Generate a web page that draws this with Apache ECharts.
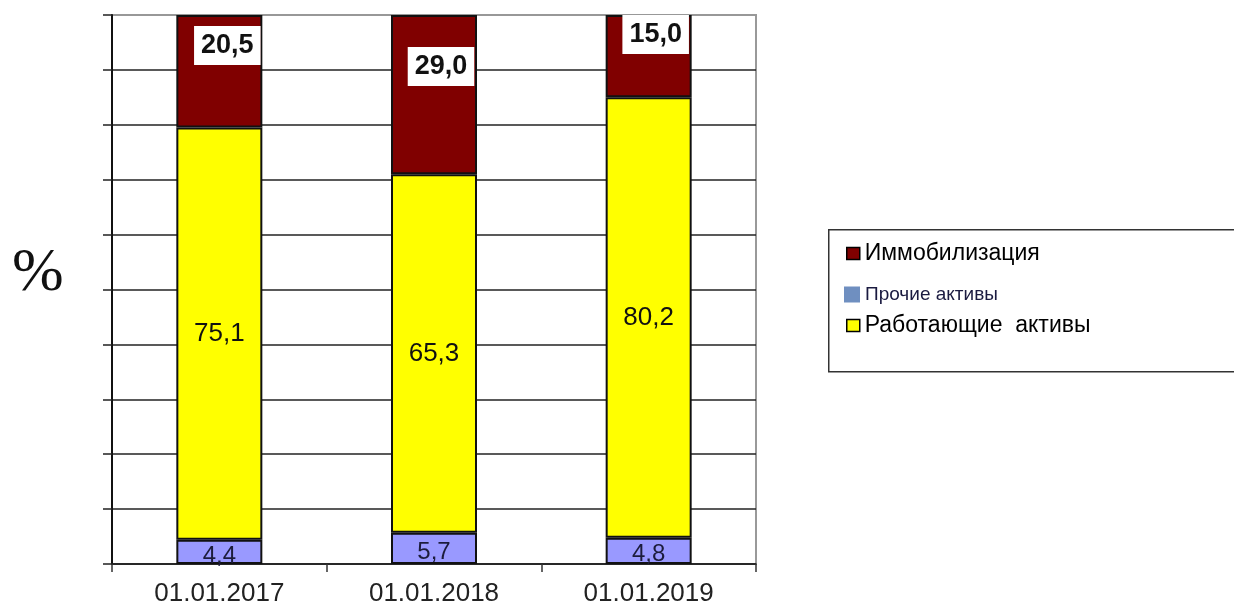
<!DOCTYPE html>
<html>
<head>
<meta charset="utf-8">
<script src="https://cdn.jsdelivr.net/npm/echarts@6/dist/echarts.min.js"></script>
<style>
  html, body { margin: 0; padding: 0; background: #fff; }
  #chart { width: 1234px; height: 607px; }
</style>
</head>
<body>
<div id="chart"></div>
<script>
// Asset structure by date, % of total
const categories = ['01.01.2017', '01.01.2018', '01.01.2019'];
const otherAssets = [4.4, 5.7, 4.8];        // Прочие активы
const workingAssets = [75.1, 65.3, 80.2];   // Работающие активы
const immobilization = [20.5, 29.0, 15.0];  // Иммобилизация

const seriesNames = ['Иммобилизация', 'Прочие активы', 'Работающие  активы'];

// Manual nudges of the boxed top labels (px)
const topLabelNudge = [[8, 11], [7, 32], [7, 0]];

const fmt = v => v.toFixed(1).replace('.', ',');

const chart = echarts.init(document.getElementById('chart'), null, { renderer: 'canvas' });

const gridColors = Array(10).fill('#222').concat(['#999']);

chart.setOption({
  animation: false,
  backgroundColor: '#fff',
  textStyle: { fontFamily: 'Liberation Sans, Arial, sans-serif' },
  grid: {
    left: 112, right: 478, top: 15, bottom: 42,
    show: true, borderColor: '#999', borderWidth: 2, backgroundColor: 'transparent'
  },
  xAxis: {
    type: 'category',
    data: categories,
    boundaryGap: true,
    axisLine: { show: true, lineStyle: { color: '#222', width: 1.5 } },
    axisTick: { show: true, length: 8, lineStyle: { color: '#333', width: 1.5 } },
    axisLabel: { fontSize: 26, color: '#222', margin: 17 }
  },
  yAxis: {
    type: 'value',
    min: 0, max: 100, interval: 10,
    axisLine: { show: true, lineStyle: { color: '#111', width: 2 } },
    axisTick: { show: true, length: 9, lineStyle: { color: '#222', width: 1.5 } },
    axisLabel: { show: false },
    splitLine: { show: true, lineStyle: { color: gridColors, width: 1.5 } }
  },
  legend: [
    {
      orient: 'vertical', left: 846, top: 242, padding: 0,
      itemWidth: 13, itemHeight: 12, icon: 'rect',
      data: [{ name: seriesNames[0], itemStyle: { color: '#800000', borderColor: '#000', borderWidth: 1.5 } }],
      textStyle: { fontSize: 23, color: '#000' }
    },
    {
      orient: 'vertical', left: 844, top: 285, padding: 0,
      itemWidth: 16, itemHeight: 16, icon: 'rect',
      data: [{ name: seriesNames[1], itemStyle: { color: '#6f8fc0', borderWidth: 0 } }],
      textStyle: { fontSize: 19, color: '#1a1a40' }
    },
    {
      orient: 'vertical', left: 846, top: 314, padding: 0,
      itemWidth: 13, itemHeight: 12, icon: 'rect',
      data: [{ name: seriesNames[2], itemStyle: { color: '#ffff00', borderColor: '#000', borderWidth: 1.5 } }],
      textStyle: { fontSize: 23, color: '#000' }
    }
  ],
  graphic: [
    {
      type: 'rect', left: 828, top: 229, z: -1,
      shape: { width: 430, height: 142 },
      style: { fill: '#fff', stroke: '#333', lineWidth: 1.5 }
    },
    {
      type: 'text', left: 12, top: 243,
      style: { text: '%', font: '62px "Liberation Serif", "DejaVu Serif", serif', fill: '#111' }
    }
  ],
  series: [
    {
      name: seriesNames[1],
      type: 'bar', stack: 'total', barWidth: 86,
      data: otherAssets,
      itemStyle: { color: '#9999ff', borderColor: '#111', borderWidth: 2 },
      label: {
        show: true, position: 'inside', fontSize: 24, color: '#1c1c3c',
        offset: [0, 4],
        formatter: p => fmt(p.value)
      }
    },
    {
      name: seriesNames[2],
      type: 'bar', stack: 'total', barWidth: 86,
      data: workingAssets,
      itemStyle: { color: '#ffff00', borderColor: '#111', borderWidth: 2 },
      label: {
        show: true, position: 'inside', fontSize: 26, color: '#111',
        formatter: p => fmt(p.value)
      }
    },
    {
      name: seriesNames[0],
      type: 'bar', stack: 'total', barWidth: 86,
      data: immobilization.map((v, i) => ({
        value: v,
        label: { offset: topLabelNudge[i] }
      })),
      itemStyle: { color: '#800000', borderColor: '#111', borderWidth: 2 },
      label: {
        show: true, position: 'insideTop', distance: 0,
        fontSize: 27, fontWeight: 'bold', color: '#111', lineHeight: 27,
        backgroundColor: '#fff', padding: [6, 7, 6, 7],
        formatter: p => fmt(p.value)
      }
    }
  ]
});
</script>
</body>
</html>
